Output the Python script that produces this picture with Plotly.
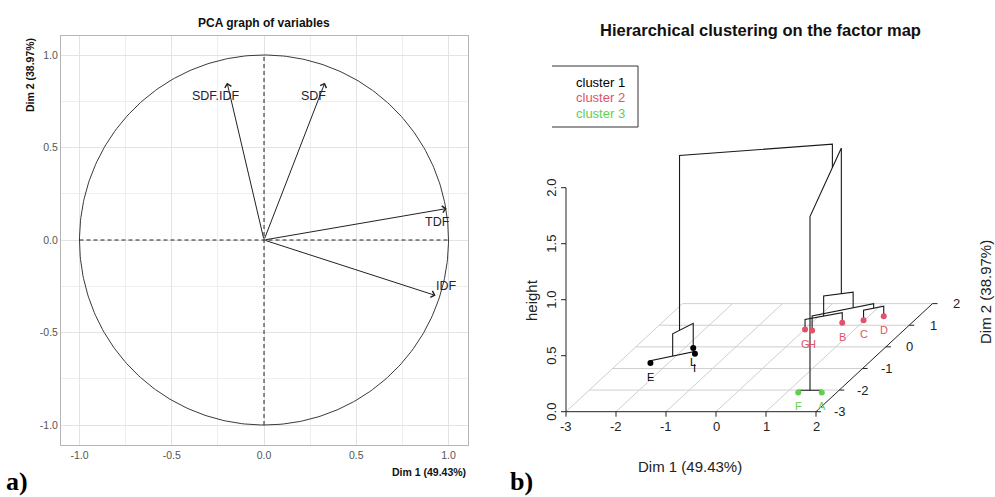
import numpy as np
import plotly.graph_objects as go

W, H = 995, 497

# ---------------- panel a) data ----------------
var_names = ["SDF.IDF", "SDF", "TDF", "IDF"]
var_dim1 = [-0.20, 0.33, 0.99, 0.93]
var_dim2 = [0.85, 0.85, 0.17, -0.30]
pca_ticks = [-1.0, -0.5, 0.0, 0.5, 1.0]

# ---------------- panel b) data ----------------
ind_names = ["E", "I", "L", "G", "H", "B", "C", "D", "F", "A"]
ind_dim1 = [-2.36, -1.67, -1.83, 0.01, 0.17, 0.61, 0.98, 1.30, 1.23, 1.70]
ind_dim2 = [-0.75, -0.32, -0.05, 0.80, 0.76, 1.11, 1.23, 1.41, -2.11, -2.11]
ind_cluster = [1, 1, 1, 2, 2, 2, 2, 2, 3, 3]
# hclust-style merges: negative = individual (1-based), positive = earlier merge
merge_a = [-1, 1, -4, -7, -5, 3, -9, 6, 2]
merge_b = [-2, -3, -6, -8, 4, 5, -10, 7, 8]
merge_height = [0.02, 0.22, 0.09, 0.09, 0.13, 0.27, 0.02, 1.57, 1.78]
cluster_names = ["cluster 1", "cluster 2", "cluster 3"]
cluster_colors = ["#000000", "#DF536B", "#61D04F"]
dim1_ticks = [-3, -2, -1, 0, 1, 2]
dim2_ticks = [-3, -2, -1, 0, 1, 2]
height_ticks = [0.0, 0.5, 1.0, 1.5, 2.0]

# label offsets for variable names (data units, relative to arrow tips)
var_label_off = [(-0.06, -0.07), (-0.06, -0.07), (-0.05, -0.07), (0.06, 0.05)]

FONT = "Liberation Sans, Arial, sans-serif"
SERIF = "Liberation Serif, Times New Roman, serif"


def pxx(x):
    return x / W


def pxy(y):
    return 1 - y / H


fig = go.Figure()


def note(x, y, text, size, color, ref="paper", xa="center", ya="middle", angle=0, family=FONT):
    xr = "paper" if ref == "paper" else "x2"
    yr = "paper" if ref == "paper" else "y2"
    if ref == "a":
        xr, yr = "x", "y"
    fig.add_annotation(x=x, y=y, xref=xr, yref=yr, text=text, showarrow=False,
                       xanchor=xa, yanchor=ya, textangle=angle,
                       font=dict(family=family, size=size, color=color))


# ================= panel a =================
t = np.linspace(0, 2 * np.pi, 361)
fig.add_trace(go.Scatter(x=np.cos(t), y=np.sin(t), mode="lines",
                         line=dict(color="#3a3a3a", width=1), hoverinfo="skip",
                         xaxis="x", yaxis="y", showlegend=False))
fig.add_trace(go.Scatter(x=[-1, 1, None, 0, 0], y=[0, 0, None, -1, 1], mode="lines",
                         line=dict(color="#222222", width=1, dash="4px,3px"), hoverinfo="skip",
                         xaxis="x", yaxis="y", showlegend=False))
for name, d1, d2, off in zip(var_names, var_dim1, var_dim2, var_label_off):
    fig.add_annotation(x=d1, y=d2, ax=0, ay=0, xref="x", yref="y", axref="x", ayref="y",
                       text="", showarrow=True, arrowhead=4, arrowsize=1.3, arrowwidth=1,
                       arrowcolor="#222222", standoff=0)
    note(d1 + off[0], d2 + off[1], name, 12.5, "#1c2333", ref="a")

note(pxx(264), pxy(23), "<b>PCA graph of variables</b>", 12, "#111111")
note(pxx(468), pxy(472), "<b>Dim 1 (49.43%)</b>", 10.5, "#111111", xa="right")
note(pxx(30), pxy(36), "<b>Dim 2 (38.97%)</b>", 10.5, "#111111", ya="top", angle=-90)
note(pxx(4), pxy(481), "<b>a)</b>", 26, "#000000", xa="left", family=SERIF)
note(pxx(508), pxy(481), "<b>b)</b>", 26, "#000000", xa="left", family=SERIF)

# ================= panel b =================
KX, KY, D2MIN = 0.466, 0.193, -3.0


def proj(d1, d2, h):
    return d1 + KX * (d2 - D2MIN), h + KY * (d2 - D2MIN)


def add_lines(xs, ys, color, width, dash=None):
    fig.add_trace(go.Scatter(x=xs, y=ys, mode="lines", xaxis="x2", yaxis="y2",
                             line=dict(color=color, width=width, dash=dash),
                             hoverinfo="skip", showlegend=False))


# floor grid
gx, gy = [], []
for d2 in dim2_ticks[1:]:
    for (a, b) in [proj(dim1_ticks[0], d2, 0), proj(dim1_ticks[-1], d2, 0)]:
        gx.append(a); gy.append(b)
    gx.append(None); gy.append(None)
for d1 in dim1_ticks[:-1]:
    for (a, b) in [proj(d1, dim2_ticks[0], 0), proj(d1, dim2_ticks[-1], 0)]:
        gx.append(a); gy.append(b)
    gx.append(None); gy.append(None)
add_lines(gx, gy, "#cfcfcf", 1)

# axes
ax_x, ax_y = [], []
p0 = proj(dim1_ticks[0], dim2_ticks[0], 0)
p1 = proj(dim1_ticks[-1], dim2_ticks[0], 0)
p2 = proj(dim1_ticks[-1], dim2_ticks[-1], 0)
p3 = proj(dim1_ticks[0], dim2_ticks[0], height_ticks[-1])
for seg in [(p0, p1), (p1, p2), (p0, p3)]:
    ax_x += [seg[0][0], seg[1][0], None]
    ax_y += [seg[0][1], seg[1][1], None]
TK_Y = 5 / 112
TK_X = 5 / 50
for d1 in dim1_ticks:
    a, b = proj(d1, dim2_ticks[0], 0)
    ax_x += [a, a, None]; ax_y += [b, b - TK_Y, None]
    note(a, b - 0.135, str(d1), 13, "#222222", ref="b")
for h in height_ticks:
    a, b = proj(dim1_ticks[0], dim2_ticks[0], h)
    ax_x += [a, a - TK_X, None]; ax_y += [b, b, None]
    note(a - 0.28, b, f"{h:.1f}", 13, "#222222", ref="b", angle=-90)
for d2 in dim2_ticks:
    a, b = proj(dim1_ticks[-1], d2, 0)
    ax_x += [a, a + TK_X, None]; ax_y += [b, b, None]
    note(a + 0.48, b, str(d2), 13, "#222222", ref="b")
add_lines(ax_x, ax_y, "#222222", 1)

# dendrogram
nodes = {}


def child(c):
    if c < 0:
        i = -c - 1
        return ind_dim1[i], ind_dim2[i], 0.0, 1
    return nodes[c]


dx, dy = [], []
for k in range(len(merge_a)):
    a1, a2, ah, an = child(merge_a[k])
    b1, b2, bh, bn = child(merge_b[k])
    h = merge_height[k]
    for (u, v, w) in [(a1, a2, ah), (a1, a2, h), (b1, b2, h), (b1, b2, bh)]:
        X, Y = proj(u, v, w)
        dx.append(X); dy.append(Y)
    dx.append(None); dy.append(None)
    n = an + bn
    nodes[k + 1] = ((a1 * an + b1 * bn) / n, (a2 * an + b2 * bn) / n, h, n)
add_lines(dx, dy, "#1a1a1a", 1.1)

# individuals
for ci in range(3):
    idx = [i for i, c in enumerate(ind_cluster) if c == ci + 1]
    xs, ys = zip(*[proj(ind_dim1[i], ind_dim2[i], 0) for i in idx])
    fig.add_trace(go.Scatter(x=xs, y=ys, mode="markers", xaxis="x2", yaxis="y2",
                             marker=dict(color=cluster_colors[ci], size=6),
                             hoverinfo="skip", showlegend=False))
    for i, X, Y in zip(idx, xs, ys):
        note(X, Y - 0.125, ind_names[i], 11, cluster_colors[ci], ref="b")

# titles / labels for panel b
note(pxx(760), pxy(30), "<b>Hierarchical clustering on the factor map</b>", 16.5, "#111111")
note(pxx(690), pxy(466), "Dim 1 (49.43%)", 15, "#222222")
note(pxx(531), pxy(300), "height", 15, "#222222", angle=-90)
note(pxx(985), pxy(292), "Dim 2 (38.97%)", 15, "#222222", angle=-90)

# legend box
lx0, lx1, ly0, ly1 = 552, 638, 66, 127
fig.add_shape(type="path", xref="paper", yref="paper",
              path=f"M {pxx(lx0)},{pxy(ly0)} L {pxx(lx1)},{pxy(ly0)} L {pxx(lx1)},{pxy(ly1)} L {pxx(lx0)},{pxy(ly1)}",
              line=dict(color="#333333", width=1))
for j, (nm, col) in enumerate(zip(cluster_names, cluster_colors)):
    note(pxx(574), pxy(83 + 15 * j), nm, 13, col, xa="left")

# ================= layout =================
grid_col = "#e3e3e3"
fig.update_layout(
    width=W, height=H, margin=dict(l=0, r=0, t=0, b=0),
    paper_bgcolor="white", plot_bgcolor="white", showlegend=False,
    xaxis=dict(domain=[pxx(61), pxx(468)], range=[(61 - 264) / 184.5, (468 - 264) / 184.5],
               tickvals=pca_ticks, ticktext=[f"{v:.1f}" for v in pca_ticks],
               showgrid=True, gridcolor=grid_col, gridwidth=1, zeroline=False,
               minor=dict(dtick=0.25, tick0=0.25, showgrid=True, gridcolor="#eeeeee"),
               showline=True, mirror=True, linecolor="#b5b5b5", linewidth=1,
               ticks="", tickfont=dict(family=FONT, size=10.5, color="#555555")),
    yaxis=dict(domain=[pxy(445), pxy(36)], range=[(240 - 445) / 185, (240 - 36) / 185],
               tickvals=pca_ticks, ticktext=[f"{v:.1f}" for v in pca_ticks],
               showgrid=True, gridcolor=grid_col, gridwidth=1, zeroline=False,
               minor=dict(dtick=0.25, tick0=0.25, showgrid=True, gridcolor="#eeeeee"),
               showline=True, mirror=True, linecolor="#b5b5b5", linewidth=1,
               ticks="", tickfont=dict(family=FONT, size=10.5, color="#555555")),
    xaxis2=dict(domain=[pxx(540), 1], range=[(540 - 716) / 50, (995 - 716) / 50],
                visible=False, fixedrange=True, anchor="y2"),
    yaxis2=dict(domain=[0, 1], range=[(411.7 - 497) / 112, 411.7 / 112],
                visible=False, fixedrange=True, anchor="x2"),
)

fig.write_html("out.html")
